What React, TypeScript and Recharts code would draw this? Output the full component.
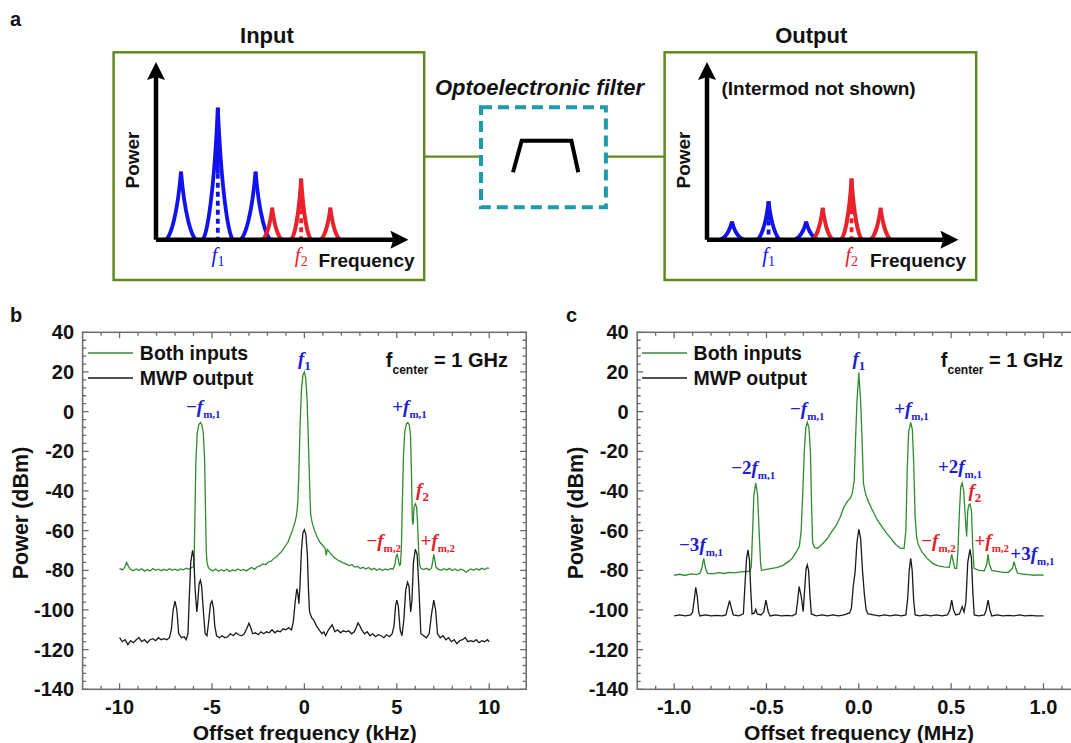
import React from 'react';
import { LineChart, Line, XAxis, YAxis, ReferenceDot, BarChart, Bar } from 'recharts';

const FONT = "'Liberation Sans', Arial, Helvetica, sans-serif";
const SERIF = "'Liberation Serif', 'Times New Roman', serif";
const OLIVE = '#5f8a1f';
const TEAL = '#1f9aa6';
const S_BLUE = '#1212ee';
const S_RED = '#e8212b';
const A_BLUE = '#1c1cd0';
const A_RED = '#e0232b';
const GREEN = '#2f8c2f';
const BLACK = '#1a1a1a';
const FRAME_COLOR = '#6a6a6a';

// ---------------- panel a : schematic ----------------
const schematicBlueFreq = [1.06, 2.61, 4.2];
const schematicRedFreq = [4.9, 6.12, 7.35];
const carrierTicks = [2.61, 6.12]; // f1, f2
const inputBluePower = [0.418, 0.811, 0.418];
const inputRedPower = [0.197, 0.375, 0.197];
const outputBluePower = [0.112, 0.235, 0.112];
const outputRedPower = [0.197, 0.375, 0.197];
const filterFreq = [0, 0.133, 0.894, 1];
const filterGain = [0, 1, 1, 0];

// ---------------- panel b : kHz span ----------------
const bothInputsB: [number, number][] = [
  [-10, -79], [-9.85, -79.8], [-9.72, -78.5], [-9.62, -76], [-9.52, -78], [-9.4, -79.6], [-9.25, -80.2], [-9.1, -79.3],
  [-8.95, -80], [-8.8, -79.2], [-8.65, -80.4], [-8.5, -79.6], [-8.35, -80.3], [-8.2, -79.1], [-8.05, -80], [-7.9, -79.4],
  [-7.75, -80.2], [-7.6, -79.5], [-7.45, -80.1], [-7.3, -79.2], [-7.15, -80], [-7.0, -79.4], [-6.85, -80.1], [-6.7, -79.3],
  [-6.55, -79.8], [-6.4, -78.9], [-6.25, -79.5], [-6.1, -78.6], [-6.0, -78.2], [-5.96, -72], [-5.92, -50], [-5.87, -25],
  [-5.8, -11], [-5.72, -6.8], [-5.63, -5.5], [-5.55, -6.6], [-5.47, -10.5], [-5.4, -24], [-5.35, -50], [-5.31, -70],
  [-5.27, -76], [-5.2, -78.5], [-5.1, -79.6], [-4.95, -80.3], [-4.8, -79.4], [-4.65, -80.5], [-4.5, -79.7], [-4.35, -80.4],
  [-4.2, -79.5], [-4.05, -80.6], [-3.9, -79.8], [-3.75, -80.2], [-3.6, -79.3], [-3.45, -80.1], [-3.3, -79.6], [-3.15, -80.3],
  [-3.0, -79.4], [-2.85, -78.6], [-2.7, -79.5], [-2.55, -78.2], [-2.4, -77.8], [-2.25, -76.8], [-2.1, -77.2], [-1.95, -75.8],
  [-1.8, -75.4], [-1.65, -74], [-1.5, -73.2], [-1.34, -71.5], [-1.2, -70.2], [-1.05, -68], [-0.9, -66], [-0.75, -62.5],
  [-0.6, -58.5], [-0.5, -55.5], [-0.42, -52], [-0.36, -46], [-0.31, -34], [-0.26, -17], [-0.22, -3], [-0.16, 11],
  [-0.08, 18.5], [0, 20], [0.07, 17], [0.14, 7], [0.2, -10], [0.25, -26], [0.3, -42], [0.34, -52], [0.42, -56],
  [0.55, -60], [0.7, -63.5], [0.85, -66], [1.0, -67.5], [1.12, -69], [1.18, -72.5], [1.24, -69.5], [1.37, -71],
  [1.5, -72.5], [1.65, -73.8], [1.8, -74.8], [1.95, -75.5], [2.1, -76.3], [2.27, -76.9], [2.42, -77.6], [2.57, -77.2],
  [2.72, -78.4], [2.87, -78], [3.02, -79.1], [3.17, -78.5], [3.32, -79.4], [3.47, -78.6], [3.62, -79.7], [3.77, -79],
  [3.92, -80], [4.07, -79.2], [4.22, -80.1], [4.37, -79.3], [4.52, -79.9], [4.67, -79.1], [4.8, -79.5], [4.9, -77],
  [4.96, -73], [5.02, -72], [5.08, -74.5], [5.14, -77.5], [5.2, -77], [5.25, -68], [5.3, -45], [5.36, -22], [5.43, -10],
  [5.52, -6.2], [5.6, -5.5], [5.68, -6.8], [5.74, -12], [5.79, -30], [5.84, -55], [5.88, -57], [5.93, -48.5], [6.0, -46.5],
  [6.07, -48], [6.12, -56], [6.18, -70], [6.23, -77], [6.3, -79], [6.45, -79.6], [6.6, -79], [6.75, -79.8], [6.88, -78.8],
  [6.95, -75], [7.0, -72], [7.05, -74.5], [7.12, -78.5], [7.25, -79.5], [7.4, -80], [7.55, -79.2], [7.7, -79.8], [7.85, -79],
  [8.0, -80.1], [8.15, -79.3], [8.3, -80.2], [8.45, -79.4], [8.6, -79.9], [8.75, -81], [8.85, -80.2], [9.0, -79.3],
  [9.15, -80], [9.3, -79.2], [9.45, -79.8], [9.6, -79], [9.75, -79.6], [9.9, -78.8], [10, -79],
];

const mwpOutputB: [number, number][] = [
  [-10, -114], [-9.85, -116], [-9.7, -115], [-9.55, -117.5], [-9.4, -115.5], [-9.25, -116.5], [-9.1, -115], [-8.95, -114],
  [-8.8, -116], [-8.65, -115], [-8.5, -116.5], [-8.35, -115], [-8.2, -114.5], [-8.05, -115.5], [-7.9, -114], [-7.75, -115],
  [-7.6, -114.5], [-7.45, -115], [-7.3, -114], [-7.2, -110], [-7.1, -100], [-7.0, -95.5], [-6.9, -100], [-6.8, -112],
  [-6.65, -114], [-6.5, -113.5], [-6.4, -115], [-6.3, -112], [-6.22, -92], [-6.15, -76], [-6.05, -70], [-5.98, -74],
  [-5.91, -90], [-5.82, -101], [-5.76, -95], [-5.7, -87], [-5.63, -85], [-5.56, -88], [-5.47, -100], [-5.37, -112],
  [-5.27, -113], [-5.17, -105], [-5.08, -97], [-5.0, -95.5], [-4.92, -99], [-4.85, -108], [-4.75, -113], [-4.6, -114],
  [-4.45, -113], [-4.3, -114], [-4.15, -113.5], [-4.0, -112], [-3.85, -113], [-3.7, -111.5], [-3.55, -112.5], [-3.4, -113],
  [-3.25, -112], [-3.1, -109], [-3.0, -106.7], [-2.9, -109], [-2.8, -112], [-2.65, -111.5], [-2.5, -112.5], [-2.35, -111],
  [-2.2, -112], [-2.05, -111], [-1.9, -111.5], [-1.75, -110], [-1.6, -111.5], [-1.45, -110.5], [-1.3, -111], [-1.15, -109.5],
  [-1.0, -110], [-0.85, -109], [-0.7, -110], [-0.6, -106], [-0.5, -96], [-0.41, -89.3], [-0.35, -92], [-0.3, -96.8],
  [-0.24, -88], [-0.16, -70], [-0.08, -61], [0, -59.5], [0.08, -62], [0.16, -72], [0.22, -90], [0.28, -101], [0.4, -104],
  [0.5, -105], [0.65, -108], [0.8, -110], [0.95, -112], [1.05, -111], [1.15, -113], [1.3, -110], [1.5, -107.5],
  [1.65, -111], [1.8, -110], [1.95, -111.5], [2.1, -110.5], [2.25, -111], [2.4, -110.5], [2.55, -112], [2.7, -111],
  [2.8, -109], [2.9, -106.5], [3.0, -108], [3.1, -110], [3.25, -112], [3.4, -111], [3.55, -113], [3.7, -112],
  [3.85, -113.5], [4.0, -112.5], [4.15, -113], [4.3, -114], [4.45, -112.5], [4.6, -113.5], [4.75, -112], [4.85, -108],
  [4.93, -98], [5.0, -95], [5.08, -98], [5.18, -110], [5.28, -113], [5.38, -105], [5.48, -90], [5.58, -86], [5.66, -88],
  [5.75, -101], [5.82, -95], [5.9, -76], [6.0, -69.4], [6.1, -72], [6.2, -90], [6.3, -112], [6.45, -113], [6.6, -114],
  [6.75, -112], [6.88, -102], [7.0, -95], [7.1, -100], [7.2, -112], [7.35, -114], [7.5, -113], [7.65, -115], [7.8, -114],
  [7.95, -116], [8.1, -115], [8.25, -117], [8.4, -115.5], [8.55, -115], [8.7, -114], [8.85, -116], [9.0, -115.5],
  [9.15, -116], [9.3, -115], [9.45, -116.5], [9.6, -115.5], [9.75, -116], [9.9, -115], [10.0, -116],
];

// ---------------- panel c : MHz span ----------------
const bothInputsC: [number, number][] = [
  [-1.0, -82.5], [-0.97, -82], [-0.94, -82.6], [-0.91, -81.8], [-0.88, -82.2], [-0.86, -81.5], [-0.85, -79], [-0.84, -74],
  [-0.83, -79], [-0.82, -81.5], [-0.79, -81.8], [-0.76, -81.2], [-0.73, -81.6], [-0.7, -81], [-0.67, -81.3], [-0.64, -80.8],
  [-0.61, -80.6], [-0.59, -80.5], [-0.582, -78], [-0.575, -60], [-0.568, -42], [-0.558, -36], [-0.548, -42], [-0.54, -60],
  [-0.532, -76], [-0.527, -80], [-0.5, -79.5], [-0.47, -79], [-0.44, -78.5], [-0.41, -77.5], [-0.38, -75.5], [-0.36, -74],
  [-0.34, -71], [-0.322, -68], [-0.312, -60], [-0.303, -40], [-0.295, -20], [-0.287, -8], [-0.279, -5.4], [-0.27, -8],
  [-0.262, -20], [-0.255, -50], [-0.25, -66], [-0.24, -68.5], [-0.225, -69], [-0.2, -67], [-0.17, -64], [-0.15, -61],
  [-0.12, -57], [-0.1, -53], [-0.08, -48], [-0.06, -45], [-0.045, -43.5], [-0.035, -41], [-0.025, -35], [-0.018, -15],
  [-0.01, 5], [0, 19.7], [0.01, 5], [0.018, -15], [0.025, -36], [0.035, -41], [0.05, -45], [0.07, -49], [0.1, -54.6],
  [0.125, -58], [0.15, -61.3], [0.175, -64], [0.2, -67], [0.225, -68.8], [0.245, -69], [0.255, -60], [0.262, -30],
  [0.27, -10], [0.281, -5.4], [0.29, -9], [0.297, -25], [0.305, -53], [0.313, -63], [0.322, -67], [0.34, -70.5],
  [0.37, -74], [0.4, -76.5], [0.43, -77.8], [0.46, -78.3], [0.49, -78.5], [0.497, -75], [0.503, -72], [0.51, -75],
  [0.52, -79], [0.53, -79], [0.537, -70], [0.545, -50], [0.552, -38], [0.56, -36], [0.568, -40], [0.576, -52],
  [0.584, -63], [0.59, -50], [0.596, -47], [0.602, -46.5], [0.61, -50], [0.617, -68], [0.624, -79], [0.65, -80],
  [0.68, -80.2], [0.693, -77], [0.7, -72], [0.707, -77], [0.72, -80], [0.75, -80.5], [0.78, -81], [0.81, -81],
  [0.832, -79], [0.841, -75.6], [0.85, -79], [0.86, -81.5], [0.89, -82], [0.92, -82.2], [0.95, -82.5], [0.98, -82.3],
  [1.0, -82.5],
];

const mwpOutputC: [number, number][] = [
  [-1.0, -103], [-0.97, -102.5], [-0.94, -103], [-0.91, -102.5], [-0.9, -101], [-0.89, -94], [-0.883, -88.6],
  [-0.875, -93], [-0.867, -101], [-0.86, -103], [-0.83, -102.5], [-0.8, -103], [-0.77, -102.7], [-0.74, -103],
  [-0.72, -102.5], [-0.71, -99], [-0.7, -95.3], [-0.69, -99], [-0.68, -102.5], [-0.65, -103], [-0.625, -102],
  [-0.615, -85], [-0.608, -74], [-0.6, -69.7], [-0.592, -75], [-0.585, -90], [-0.578, -102], [-0.565, -101.5],
  [-0.558, -99.7], [-0.55, -102], [-0.53, -102.5], [-0.515, -101], [-0.503, -95], [-0.49, -101], [-0.48, -103],
  [-0.45, -102.5], [-0.42, -103], [-0.39, -102.7], [-0.36, -103], [-0.34, -102], [-0.332, -96], [-0.323, -88.2],
  [-0.312, -93], [-0.301, -100.8], [-0.292, -88], [-0.285, -79], [-0.279, -77.3], [-0.272, -80], [-0.265, -92],
  [-0.257, -102], [-0.23, -103], [-0.2, -102.5], [-0.17, -103], [-0.14, -102.5], [-0.11, -103], [-0.08, -102.5],
  [-0.05, -101.5], [-0.04, -99], [-0.03, -88], [-0.02, -81], [-0.01, -66], [0, -59.3], [0.01, -64], [0.02, -80],
  [0.03, -92], [0.04, -100], [0.05, -102], [0.08, -102.5], [0.11, -103], [0.14, -102.5], [0.17, -103], [0.2, -102.5],
  [0.23, -103], [0.255, -102.5], [0.265, -94], [0.273, -80], [0.281, -74], [0.289, -80], [0.297, -95], [0.305, -102.5],
  [0.33, -103], [0.36, -102.5], [0.39, -103], [0.42, -102.5], [0.45, -103], [0.48, -102.5], [0.493, -100], [0.503, -95],
  [0.513, -100], [0.525, -102.5], [0.545, -102], [0.56, -98.3], [0.57, -101], [0.58, -96], [0.59, -76], [0.602, -69.4],
  [0.61, -74], [0.617, -90], [0.625, -102.5], [0.65, -103], [0.68, -102.5], [0.69, -100], [0.7, -95], [0.71, -100],
  [0.72, -103], [0.75, -102.5], [0.78, -103], [0.81, -102.7], [0.84, -103], [0.87, -102.5], [0.9, -103], [0.93, -102.7],
  [0.96, -103], [1.0, -103],
];

// ---------------- axis ticks ----------------
const Y_MIN = -140;
const Y_MAX = 40;
const yMajorTicks = [-140, -120, -100, -80, -60, -40, -20, 0, 20, 40];
const yAllTicks: number[] = [];
for (let v = Y_MIN; v <= Y_MAX; v += 4) yAllTicks.push(v);
const xMajorB = [-10, -5, 0, 5, 10];
const xAllB: number[] = [];
for (let v = -11; v <= 11; v += 1) xAllB.push(v);
const xMajorC = [-1.0, -0.5, 0, 0.5, 1.0];
const xAllC: number[] = [];
for (let k = -11; k <= 11; k += 1) xAllC.push(k / 10);

// ---------------- annotations ----------------
type Note = { f: number; db: number; pre: string; sub: string; color: string };
const notesB: Note[] = [
  { f: 0, db: 23.3, pre: '', sub: '1', color: A_BLUE },
  { f: -5.47, db: -0.7, pre: '\u2212', sub: 'm,1', color: A_BLUE },
  { f: 5.69, db: -0.7, pre: '+', sub: 'm,1', color: A_BLUE },
  { f: 6.39, db: -42.5, pre: '', sub: '2', color: A_RED },
  { f: 4.29, db: -68.3, pre: '\u2212', sub: 'm,2', color: A_RED },
  { f: 7.22, db: -68.3, pre: '+', sub: 'm,2', color: A_RED },
];
const notesC: Note[] = [
  { f: 0, db: 23.3, pre: '', sub: '1', color: A_BLUE },
  { f: -0.279, db: -1.7, pre: '\u2212', sub: 'm,1', color: A_BLUE },
  { f: 0.285, db: -1.7, pre: '+', sub: 'm,1', color: A_BLUE },
  { f: -0.572, db: -31.5, pre: '\u22122', sub: 'm,1', color: A_BLUE },
  { f: 0.548, db: -31, pre: '+2', sub: 'm,1', color: A_BLUE },
  { f: 0.629, db: -43, pre: '', sub: '2', color: A_RED },
  { f: -0.854, db: -70.3, pre: '\u22123', sub: 'm,1', color: A_BLUE },
  { f: 0.432, db: -68.3, pre: '\u2212', sub: 'm,2', color: A_RED },
  { f: 0.72, db: -68.3, pre: '+', sub: 'm,2', color: A_RED },
  { f: 0.94, db: -75, pre: '+3', sub: 'm,1', color: A_BLUE },
];

const toRows = (pts: [number, number][]) => pts.map(([f, p]) => ({ f, p }));
const isIn = (list: number[], v: number) => list.some((l) => Math.abs(l - v) < 1e-6);

// ---------------- spectrum panel geometry ----------------
const PANEL_TOP = 300;
const PANEL_H = 443;
const M_TOP = 32.3;
const M_BOTTOM = 23.7;
const X_AXIS_H = 30;
const Y_AXIS_W = 60;
type Geo = { left: number; width: number; marginLeft: number; marginRight: number; xDomain: [number, number] };
const geoB: Geo = { left: 0, width: 560, marginLeft: 22.6, marginRight: 33.8, xDomain: [-12, 12] };
const geoC: Geo = { left: 540, width: 560, marginLeft: 37.2, marginRight: 19.6, xDomain: [-1.2, 1.2] };
const plotBox = (g: Geo) => ({
  x0: g.left + g.marginLeft + Y_AXIS_W,
  x1: g.left + g.width - g.marginRight,
  y0: PANEL_TOP + M_TOP,
  y1: PANEL_TOP + PANEL_H - M_BOTTOM - X_AXIS_H,
});

function FrameAndTicks(props: { geo: Geo; xTicks: number[]; xLabels: number[] }) {
  const { geo, xTicks, xLabels } = props;
  const b = plotBox(geo);
  const [d0, d1] = geo.xDomain;
  const px = (v: number) => b.x0 + ((v - d0) / (d1 - d0)) * (b.x1 - b.x0);
  const py = (v: number) => b.y0 + ((Y_MAX - v) / (Y_MAX - Y_MIN)) * (b.y1 - b.y0);
  let d = '';
  xTicks.forEach((v) => {
    const L = isIn(xLabels, v) ? 6 : 3.5;
    const X = px(v);
    d += `M${X},${b.y1}V${b.y1 - L}M${X},${b.y0}V${b.y0 + L}`;
  });
  yAllTicks.forEach((v) => {
    const L = isIn(yMajorTicks, v) ? 6 : 3.5;
    const Y = py(v);
    d += `M${b.x0},${Y}H${b.x0 + L}M${b.x1},${Y}H${b.x1 - L}`;
  });
  return (
    <g>
      <rect x={b.x0} y={b.y0} width={b.x1 - b.x0} height={b.y1 - b.y0} fill="none" stroke={FRAME_COLOR} strokeWidth={1.5} />
      <path d={d} stroke={FRAME_COLOR} strokeWidth={1.3} fill="none" />
    </g>
  );
}

function BottomLabel(props: any) {
  const { x, y, payload, fmt } = props;
  return (
    <text x={x} y={y + 25} textAnchor="middle" fontFamily={FONT} fontWeight="bold" fontSize={20} fill="#111">
      {fmt(payload.value)}
    </text>
  );
}
function LeftLabel(props: any) {
  const { x, y, payload } = props;
  return (
    <text x={x - 8.5} y={y + 7} textAnchor="end" fontFamily={FONT} fontWeight="bold" fontSize={20} fill="#111">
      {payload.value}
    </text>
  );
}

function NoteText(props: any) {
  const { cx, cy, note } = props;
  if (cx == null || cy == null) return null;
  return (
    <text x={cx} y={cy} textAnchor="middle" fontFamily={SERIF} fontWeight="bold" fontSize={19} fill={note.color}>
      <tspan>{note.pre}</tspan>
      <tspan fontStyle="italic">f</tspan>
      <tspan fontSize={note.sub.length > 1 ? 11 : 13} dy={5}>
        {note.sub}
      </tspan>
    </text>
  );
}

const seriesNames = ['Both inputs', 'MWP output'];
const seriesColors = [GREEN, BLACK];

function LegendBlock(props: { left: number }) {
  return (
    <div style={{ position: 'absolute', left: props.left, top: 40.5, pointerEvents: 'none' }}>
      {seriesNames.map((name, i) => (
        <div key={name} style={{ display: 'flex', alignItems: 'center', height: 25 }}>
          <svg width={45} height={4} style={{ display: 'block' }}>
            <line x1={0} x2={45} y1={2} y2={2} stroke={seriesColors[i]} strokeWidth={1.6} />
          </svg>
          <span style={{ marginLeft: 7, fontFamily: FONT, fontWeight: 'bold', fontSize: 19.5, color: '#111', whiteSpace: 'nowrap' }}>
            {name}
          </span>
        </div>
      ))}
    </div>
  );
}

function SpectrumPanel(props: {
  geo: Geo; legendLeft: number; xLabels: number[]; fmt: (v: number) => string;
  green: [number, number][]; black: [number, number][]; notes: Note[];
}) {
  const { geo, legendLeft, xLabels, fmt, green, black, notes } = props;
  return (
    <div style={{ position: 'absolute', left: geo.left, top: PANEL_TOP, width: geo.width, height: PANEL_H }}>
      <LineChart width={geo.width} height={PANEL_H}
        margin={{ top: M_TOP, right: geo.marginRight, bottom: M_BOTTOM, left: geo.marginLeft }}>
        <XAxis type="number" dataKey="f" domain={geo.xDomain} ticks={xLabels} interval={0} height={X_AXIS_H}
          tickSize={0} tickMargin={0} tickLine={false} axisLine={false} tick={<BottomLabel fmt={fmt} />} />
        <YAxis type="number" domain={[Y_MIN, Y_MAX]} ticks={yMajorTicks} interval={0} width={Y_AXIS_W}
          tickSize={0} tickMargin={0} tickLine={false} axisLine={false} tick={<LeftLabel />} />
        <Line data={toRows(green)} dataKey="p" name={seriesNames[0]} type="linear" stroke={GREEN} strokeWidth={1.3}
          dot={false} activeDot={false} isAnimationActive={false} />
        <Line data={toRows(black)} dataKey="p" name={seriesNames[1]} type="linear" stroke={BLACK} strokeWidth={1.3}
          dot={false} activeDot={false} isAnimationActive={false} />
        {notes.map((n, i) => (
          <ReferenceDot key={i} x={n.f} y={n.db} r={0} ifOverflow="visible" shape={(p: any) => <NoteText {...p} note={n} />} />
        ))}
      </LineChart>
      <LegendBlock left={legendLeft} />
    </div>
  );
}

// ---------------- schematic pieces ----------------
function cuspShape(key: string, color: string, hw: number) {
  return (props: any) => {
    const { x, y, width, height, payload } = props;
    if (!payload || payload[key] == null || !(height > 0)) return <g />;
    const cx = x + width / 2;
    const top = y;
    const base = y + height;
    const H = height;
    const side = (s: number) =>
      `M${cx + s * hw},${base} C${cx + s * hw * 0.7},${base - 0.05 * H} ${cx + s * hw * 0.25},${base - 0.35 * H} ${cx},${top}`;
    const carrier = isIn(carrierTicks, payload.f);
    return (
      <g>
        <path d={side(-1)} stroke={color} strokeWidth={3.8} fill="none" />
        <path d={side(1)} stroke={color} strokeWidth={3.8} fill="none" />
        {carrier && (
          <>
            <line x1={cx} x2={cx} y1={top} y2={top + 0.5 * H} stroke={color} strokeWidth={3.8} />
            <line x1={cx} x2={cx} y1={top + 0.5 * H} y2={base} stroke={color} strokeWidth={3.8} strokeDasharray="5 4" />
          </>
        )}
      </g>
    );
  };
}

function CarrierTick(props: any) {
  const { x, y, payload } = props;
  const first = Math.abs(payload.value - carrierTicks[0]) < 1e-6;
  return (
    <text x={x} y={y + 22} textAnchor="middle" fontFamily={SERIF} fontStyle="italic" fontSize={21} fill={first ? S_BLUE : S_RED}>
      f
      <tspan fontSize={14} fontStyle="normal" dy={4}>
        {first ? '1' : '2'}
      </tspan>
    </text>
  );
}

function SchematicPanel(props: { left: number; width: number; marginRight: number; bluePow: number[]; redPow: number[]; blueHw: number; redHw: number }) {
  const { left, width, marginRight, bluePow, redPow, blueHw, redHw } = props;
  const data = [
    ...schematicBlueFreq.map((f, i) => ({ f, blue: bluePow[i] })),
    ...schematicRedFreq.map((f, i) => ({ f, red: redPow[i] })),
  ];
  const axis = { stroke: '#000', strokeWidth: 4.5 };
  return (
    <div style={{ position: 'absolute', left, top: 52.3 }}>
      <BarChart width={width} height={227.7} data={data} margin={{ top: 25, right: marginRight, bottom: 12, left: 32 }}>
        <XAxis type="number" dataKey="f" domain={[0, 10]} ticks={carrierTicks} interval={0} height={28} tickSize={0}
          tickMargin={0} tickLine={false} axisLine={{ ...axis, markerEnd: 'url(#arrowHead)' }} tick={<CarrierTick />} />
        <YAxis type="number" domain={[0, 1]} width={10} tick={false} tickLine={false}
          axisLine={{ ...axis, markerStart: 'url(#arrowHead)' }} />
        <Bar dataKey="blue" stackId="s" isAnimationActive={false} shape={cuspShape('blue', S_BLUE, blueHw)} />
        <Bar dataKey="red" stackId="s" isAnimationActive={false} shape={cuspShape('red', S_RED, redHw)} />
      </BarChart>
    </div>
  );
}

function FilterResponse() {
  const rows = filterFreq.map((f, i) => ({ f, g: filterGain[i] }));
  return (
    <div style={{ position: 'absolute', left: 481, top: 107.3 }}>
      <LineChart width={125} height={100} data={rows} margin={{ top: 33.7, right: 27.7, bottom: 34.8, left: 32 }}>
        <XAxis type="number" dataKey="f" domain={[0, 1]} hide />
        <YAxis type="number" domain={[0, 1]} hide />
        <Line dataKey="g" type="linear" stroke="#000" strokeWidth={4} strokeLinejoin="miter" dot={false}
          activeDot={false} isAnimationActive={false} />
      </LineChart>
    </div>
  );
}

const T = (p: any) => <text fontFamily={FONT} fontWeight="bold" fill="#111" {...p} />;

export default function App() {
  return (
    <div style={{ position: 'absolute', left: 0, top: 0, width: 1071, height: 743, overflow: 'hidden', background: '#fff' }}>
      <SchematicPanel left={113.6} width={310.6} marginRight={31.2} bluePow={inputBluePower} redPow={inputRedPower} blueHw={15} redHw={10} />
      <SchematicPanel left={664.6} width={311.6} marginRight={33.2} bluePow={outputBluePower} redPow={outputRedPower} blueHw={11.5} redHw={10.5} />
      <FilterResponse />
      <SpectrumPanel geo={geoB} legendLeft={87.8} xLabels={xMajorB} fmt={(v) => String(v)}
        green={bothInputsB} black={mwpOutputB} notes={notesB} />
      <SpectrumPanel geo={geoC} legendLeft={101.6} xLabels={xMajorC} fmt={(v) => v.toFixed(1)}
        green={bothInputsC} black={mwpOutputC} notes={notesC} />
      <svg width={1071} height={743} style={{ position: 'absolute', left: 0, top: 0, pointerEvents: 'none' }}>
        <defs>
          <marker id="arrowHead" viewBox="0 0 18 18" refX={3} refY={9} markerWidth={18} markerHeight={18}
            markerUnits="userSpaceOnUse" orient="auto-start-reverse">
            <path d="M0,0 L18,9 L0,18 L3,9 Z" fill="#000" />
          </marker>
        </defs>
        <FrameAndTicks geo={geoB} xTicks={xAllB} xLabels={xMajorB} />
        <FrameAndTicks geo={geoC} xTicks={xAllC} xLabels={xMajorC} />
        <T x={10} y={26} fontSize={20}>a</T>
        <T x={266.9} y={43} fontSize={22} textAnchor="middle">Input</T>
        <T x={811.2} y={43} fontSize={22} textAnchor="middle">Output</T>
        <T x={539.5} y={95} fontSize={22} fontStyle="italic" textAnchor="middle">Optoelectronic filter</T>
        <T x={721.5} y={95} fontSize={19}>(Intermod not shown)</T>
        <rect x={113.6} y={52.3} width={310.6} height={227.7} fill="none" stroke={OLIVE} strokeWidth={2.5} />
        <rect x={664.6} y={52.3} width={311.6} height={227.7} fill="none" stroke={OLIVE} strokeWidth={2.5} />
        <line x1={424.2} x2={481} y1={156.7} y2={156.7} stroke={OLIVE} strokeWidth={2.2} />
        <line x1={605.9} x2={664.6} y1={156.7} y2={156.7} stroke={OLIVE} strokeWidth={2.2} />
        <rect x={481} y={107.3} width={124.9} height={100} fill="none" stroke={TEAL} strokeWidth={4} strokeDasharray="11 6" />
        <T transform="translate(132.6,160) rotate(-90)" fontSize={19} textAnchor="middle" dy="0.35em">Power</T>
        <T transform="translate(683.6,160) rotate(-90)" fontSize={19} textAnchor="middle" dy="0.35em">Power</T>
        <T x={318.5} y={266.5} fontSize={19}>Frequency</T>
        <T x={870} y={266.5} fontSize={19}>Frequency</T>
        <T x={10} y={322} fontSize={20}>b</T>
        <T transform="translate(20.7,513) rotate(-90)" fontSize={21.5} textAnchor="middle" dy="0.35em">Power (dBm)</T>
        <T x={304.8} y={740} fontSize={21} textAnchor="middle">Offset frequency (kHz)</T>
        <T x={508} y={366.5} fontSize={20} textAnchor="end">
          f<tspan fontSize={12} dy={7.5}>center</tspan><tspan dy={-7.5}> = 1 GHz</tspan>
        </T>
        <T x={566} y={322} fontSize={20}>c</T>
        <T transform="translate(575.6,513) rotate(-90)" fontSize={21.5} textAnchor="middle" dy="0.35em">Power (dBm)</T>
        <T x={859} y={740} fontSize={21} textAnchor="middle">Offset frequency (MHz)</T>
        <T x={1063} y={366.5} fontSize={20} textAnchor="end">
          f<tspan fontSize={12} dy={7.5}>center</tspan><tspan dy={-7.5}> = 1 GHz</tspan>
        </T>
      </svg>
    </div>
  );
}
